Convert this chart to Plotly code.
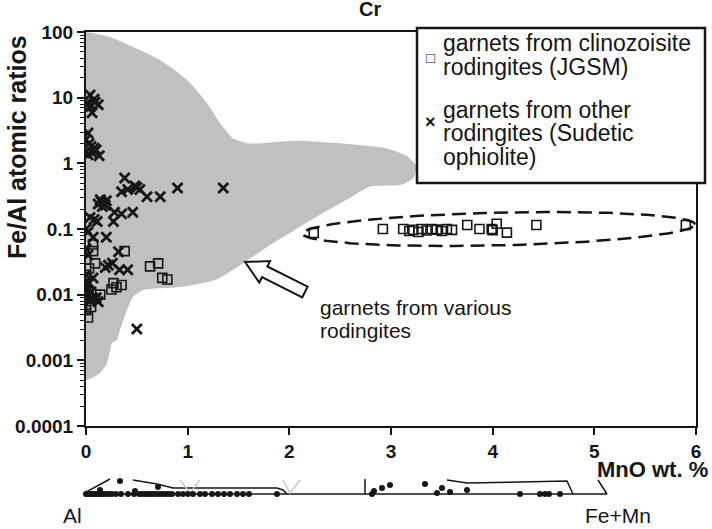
import numpy as np
import plotly.graph_objects as go

# ---------------- data ----------------
# garnets from other rodingites (Sudetic ophiolite): MnO wt.% , Fe/Al
other_mno = [0.04, 0.09, 0.00, 0.05, 0.12, 0.08, 0.06, 0.03,
             0.02, 0.00, 0.03, 0.05, 0.10, 0.06, 0.13, 0.02, 0.08, 0.00,
             0.38, 0.35, 0.41, 0.50, 0.53, 0.48, 0.60, 0.73, 0.90, 1.35,
             0.12, 0.15, 0.18, 0.16, 0.20, 0.14, 0.19,
             0.04, 0.11, 0.08, 0.28, 0.35, 0.46, 0.27, 0.00, 0.02, 0.20, 0.07,
             0.32, 0.26, 0.19, 0.33, 0.41, 0.22, 0.07, 0.12, 0.50,
             0.00, 0.02, 0.00, 0.03, 0.00, 0.05, 0.02, 0.00, 0.06, 0.04, 0.10]
other_feal = [11, 8.5, 8, 7.5, 7.8, 9.5, 5.9, 7,
              2.9, 2.3, 2.0, 1.8, 1.6, 1.45, 1.3, 1.35, 1.7, 1.5,
              0.6, 0.37, 0.40, 0.43, 0.40, 0.45, 0.31, 0.31, 0.42, 0.42,
              0.24, 0.26, 0.25, 0.22, 0.27, 0.28, 0.23,
              0.15, 0.13, 0.14, 0.18, 0.17, 0.18, 0.13, 0.10, 0.09, 0.075, 0.075,
              0.045, 0.030, 0.026, 0.024, 0.024, 0.028, 0.018, 0.0078, 0.003,
              0.05, 0.04, 0.02, 0.015, 0.012, 0.011, 0.0095, 0.009, 0.009, 0.008, 0.009]

# garnets from clinozoisite rodingites (JGSM)
jgsm_mno = [0.07, 0.07, 0.00, 0.09, 0.38, 0.63, 0.71, 0.75, 0.80, 0.27, 0.30, 0.35,
            0.25, 0.14, 0.09, 0.00, 0.02, 0.00, 0.02, 0.00, 0.05, 0.00, 0.03,
            2.24, 2.92, 3.12, 3.18, 3.22, 3.27, 3.30, 3.35, 3.40, 3.45, 3.50, 3.55,
            3.60, 3.75, 3.87, 3.99, 4.04, 4.00, 4.14, 4.43, 5.90]
jgsm_feal = [0.058, 0.046, 0.034, 0.030, 0.046, 0.027, 0.030, 0.018, 0.017, 0.015, 0.013, 0.014,
             0.012, 0.010, 0.0087, 0.0058, 0.0045, 0.013, 0.011, 0.007, 0.0065, 0.020, 0.025,
             0.087, 0.100, 0.100, 0.093, 0.097, 0.090, 0.100, 0.095, 0.100, 0.098, 0.093, 0.100,
             0.097, 0.115, 0.100, 0.100, 0.120, 0.096, 0.088, 0.115, 0.115]

# outline of the field "garnets from various rodingites"
field_mno = [0.0, 0.236, 0.462, 0.728, 0.993, 1.19, 1.318, 1.446, 1.60, 1.85,
             2.10, 2.6, 2.95, 3.15, 3.25, 3.22, 3.10, 2.79, 2.60, 2.33, 2.006,
             1.81, 1.564, 1.27, 0.925, 0.561, 0.462, 0.403, 0.334, 0.305, 0.256,
             0.207, 0.138, 0.039, 0.0]
field_feal = [100, 84, 59, 37.5, 18.6, 8.3, 4.1, 2.4, 2.0, 2.1,
              2.2, 1.95, 1.7, 1.3, 0.9, 0.6, 0.47, 0.44, 0.30, 0.175, 0.087,
              0.057, 0.0315, 0.0167, 0.0131, 0.0118, 0.0092, 0.0058, 0.0029, 0.00204, 0.00184,
              0.00091, 0.00064, 0.00052, 0.0005]

y_tickvals = [1e-4, 1e-3, 1e-2, 1e-1, 1, 10, 100]
y_ticktext = ["0.0001", "0.001", "0.01", "0.1", "1", "10", "100"]
x_tickvals = [0, 1, 2, 3, 4, 5, 6]

# bottom strip: Al - (Fe+Mn) edge of the ternary diagram (arbitrary units along edge, height above edge)
strip_x = [0, 1, 3, 5, 7, 9, 11, 13, 15, 17, 20, 23, 26, 30, 35, 42, 48, 53, 56, 59, 62, 65,
           68, 71, 74, 77, 80, 83, 86, 92, 97, 102, 107, 114, 119, 126, 132, 138, 144, 151,
           157, 163, 191, 34, 72, 14, 49,
           286, 288, 296, 304, 339, 351, 356, 364, 381, 434, 454, 459, 463, 474]
strip_y = [0] * 43 + [13, 7, 4, 3,
           0, 3, 6, 9, 10, 1, 6, 2, 4, 0, 0, 0, 0, 0]

# ---------------- figure ----------------
W, H = 712, 529
ML, MR, MT, MB = 86, 16, 32, 10
PW, PH = W - ML - MR, H - MT - MB


def PX(px):
    return (px - ML) / PW


def PY(py):
    return (H - MB - py) / PH


FONT = "Liberation Sans, Arial, sans-serif"
INK = "#161616"

fig = go.Figure()

fig.add_trace(go.Scatter(x=field_mno, y=field_feal, mode="lines", fill="toself",
                         fillcolor="#c0c0c0",
                         line=dict(width=0, color="#c0c0c0", shape="spline", smoothing=0.6),
                         hoverinfo="skip", showlegend=False))

# dashed ellipse round the JGSM garnets
cx, cy, rx, ry, k = 4.06, -1.0, 1.93, 0.25, 0.0356
t = np.linspace(0, 2 * np.pi, 200)
ex = cx + rx * np.cos(t)
ey = 10 ** (cy + ry * np.sin(t) + k * (ex - cx))
fig.add_trace(go.Scatter(x=ex, y=ey, mode="lines",
                         line=dict(color=INK, width=2.5, dash="14px,7px"),
                         hoverinfo="skip", showlegend=False))

fig.add_trace(go.Scatter(x=other_mno, y=other_feal, mode="markers", showlegend=False,
                         marker=dict(symbol="x-thin-open", size=10, color=INK,
                                     line=dict(width=2.8, color=INK))))
fig.add_trace(go.Scatter(x=jgsm_mno, y=jgsm_feal, mode="markers", showlegend=False,
                         marker=dict(symbol="square-open", size=9, color=INK,
                                     line=dict(width=1.6, color=INK))))

# bottom strip
edge_lines = [
    ([0, 521], [0, 0], INK),
    ([0, 24], [2, 15], INK),
    ([47, 71, 87, 191, 197, 201], [14, 10, 6, 6, 4, 0], INK),
    ([279, 279], [15, 0], INK),
    ([361, 381, 481, 487], [14, 11, 13, 0], INK),
    ([512, 521], [14, 0], INK),
    ([94, 104, 114], [14, 1, 14], "#c8c8c8"),
    ([197, 204, 214], [14, 1, 14], "#c8c8c8"),
]
for xs, ys, c in edge_lines:
    fig.add_trace(go.Scatter(x=xs, y=ys, xaxis="x2", yaxis="y2", mode="lines",
                             line=dict(color=c, width=1.5), hoverinfo="skip",
                             showlegend=False))
fig.add_trace(go.Scatter(x=strip_x, y=strip_y, xaxis="x2", yaxis="y2", mode="markers",
                         marker=dict(size=6, color=INK), showlegend=False,
                         cliponaxis=False))

axis_font = dict(family=FONT, size=19, color=INK, weight="bold")

fig.update_layout(
    width=W, height=H,
    margin=dict(l=ML, r=MR, t=MT, b=MB, autoexpand=False),
    paper_bgcolor="white", plot_bgcolor="white",
    showlegend=False,
    xaxis=dict(range=[0, 6], tickvals=x_tickvals, ticks="outside", ticklen=7,
               tickwidth=2, tickcolor=INK, showline=True, linewidth=2,
               linecolor=INK, mirror=True, showgrid=False, zeroline=False,
               tickfont=axis_font, anchor="y", automargin=False),
    yaxis=dict(type="log", range=[-4, 2], domain=[PY(426), 1],
               tickvals=y_tickvals, ticktext=y_ticktext, ticks="outside",
               ticklen=7, tickwidth=2, tickcolor=INK, showline=True, linewidth=2,
               linecolor=INK, mirror=True, showgrid=False, zeroline=False,
               tickfont=axis_font, automargin=False,
               minor=dict(ticks="outside", ticklen=4, tickwidth=1.2,
                          tickcolor=INK, dtick="D1", showgrid=False)),
    xaxis2=dict(range=[0, PW], domain=[0, 1], anchor="y2", visible=False),
    yaxis2=dict(range=[-6, 16], domain=[PY(500), PY(478)], anchor="x2",
                visible=False),
)

# open block arrow pointing at the field
tip = np.array([245.0, 262.0])
u = np.array([60.0, 30.0]); u /= np.linalg.norm(u)
n = np.array([-u[1], u[0]])
base = tip + 22 * u
tail = tip + 67 * u
pts = [tip, base + 12 * n, base + 6 * n, tail + 6 * n, tail - 6 * n,
       base - 6 * n, base - 12 * n]
path = "M " + " L ".join(f"{PX(p[0]):.4f} {PY(p[1]):.4f}" for p in pts) + " Z"
fig.add_shape(type="path", path=path, xref="paper", yref="paper",
              fillcolor="white", line=dict(color=INK, width=2), layer="above")

# legend box
fig.add_shape(type="rect", xref="paper", yref="paper",
              x0=PX(417), x1=PX(705), y0=PY(183), y1=PY(28),
              fillcolor="white", line=dict(color=INK, width=2.5), layer="above")


def txt(s, px, py, size, xanchor="left", bold=False, angle=0):
    fig.add_annotation(text=s, x=PX(px), y=PY(py), xref="paper", yref="paper",
                       xanchor=xanchor, yanchor="middle", showarrow=False,
                       textangle=angle,
                       font=dict(family=FONT, size=size, color=INK,
                                 weight="bold" if bold else "normal"))


legend_lines = [("garnets from clinozoisite", 43), ("rodingites (JGSM)", 67),
                ("garnets from other", 110), ("rodingites (Sudetic", 133),
                ("ophiolite)", 157)]
for s, yy in legend_lines:
    txt(s, 441, yy, 23)
txt("□", 430, 57, 15, xanchor="center", bold=True)
txt("×", 430, 122, 18, xanchor="center", bold=True)

txt("garnets from various", 318, 307, 21)
txt("rodingites", 318, 330, 21)

txt("Fe/Al atomic ratios", 17, 147, 25, xanchor="center", bold=True, angle=-90)
txt("MnO wt. %", 710, 469, 22, xanchor="right", bold=True)
txt("Cr", 370, 9, 20, xanchor="center", bold=True)
txt("Al", 72, 515, 21, xanchor="center")
txt("Fe+Mn", 618, 515, 21, xanchor="center")

fig.write_html("out.html", config={"displayModeBar": False},
               post_script="document.body.style.margin='0';document.body.style.overflow='hidden';")
